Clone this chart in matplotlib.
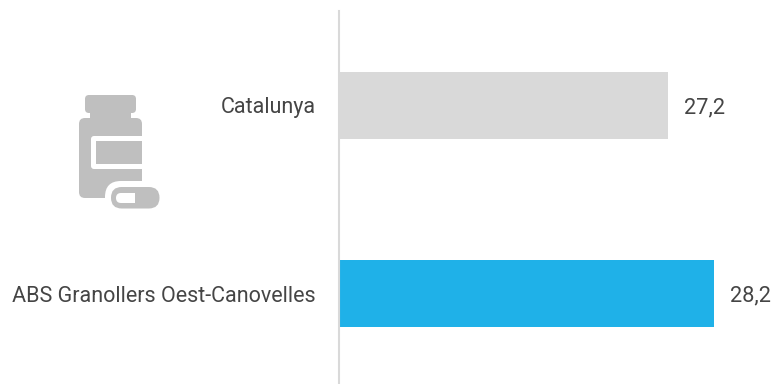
from matplotlib import pyplot as plt
from matplotlib.patches import FancyBboxPatch, Rectangle

categories = ["Catalunya", "ABS Granollers Oest-Canovelles"]
values = [27.2, 28.2]
value_labels = ["27,2", "28,2"]
bar_colors = ["#d9d9d9", "#1fb1e8"]

W, H = 776, 384
ICON = "#bfbfbf"
TEXT = "#454545"

plt.rcParams["font.family"] = "Roboto"

fig = plt.figure(figsize=(W / 100, H / 100), dpi=100, facecolor="white")

# overlay in pixel coordinates for the icon
bg = fig.add_axes([0, 0, 1, 1])
bg.set_xlim(0, W)
bg.set_ylim(H, 0)
bg.axis("off")


def rbox(x0, y0, x1, y1, r, color, z):
    bg.add_patch(FancyBboxPatch((x0 + r, y0 + r), x1 - x0 - 2 * r, y1 - y0 - 2 * r,
                                boxstyle="round,pad=%f,rounding_size=%f" % (r, r),
                                fc=color, ec="none", zorder=z))


rbox(85, 95, 136, 113, 4, ICON, 1)
bg.add_patch(Rectangle((90, 110), 41, 10, fc=ICON, ec="none", zorder=1))
rbox(79, 118, 142, 198, 6, ICON, 1)
rbox(91, 136, 150, 169, 3, "white", 2)
bg.add_patch(Rectangle((96, 141), 46, 23, fc=ICON, ec="none", zorder=3))
bg.add_patch(Rectangle((142, 130), 10, 60, fc="white", ec="none", zorder=3))
rbox(105, 181, 165, 214, 16, "white", 4)
rbox(111, 187, 159.5, 208.5, 10.7, ICON, 5)
rbox(116, 193, 140, 203, 5, "white", 6)
bg.add_patch(Rectangle((135, 192), 6, 12, fc=ICON, ec="none", zorder=7))

# chart axes, value axis starts at 20
left, right, top, bottom = 338.5, 776, 11, 384
ax = fig.add_axes([left / W, 1 - bottom / H, (right - left) / W, (bottom - top) / H])
ax.patch.set_alpha(0)
ax.set_xlim(20, 20 + (right - left) / 45.8)
ax.set_ylim((bottom - 105.5) / 188, (top - 105.5) / 188)
ax.barh(range(len(values)), values, left=0, height=67 / 188, color=bar_colors, zorder=2)
for i, v in enumerate(values):
    ax.annotate(value_labels[i], (v, i), xytext=(16, -2), textcoords="offset pixels",
                va="center", ha="left", fontsize=15.7, color=TEXT, clip_on=False)

for s in ["top", "right", "bottom"]:
    ax.spines[s].set_visible(False)
ax.spines["left"].set_color("#d9d9d9")
ax.spines["left"].set_linewidth(1.5)
ax.spines["left"].set_zorder(3)
ax.set_xticks([])
ax.set_yticks(range(len(categories)))
ax.set_yticklabels(categories, fontsize=15.5, color=TEXT)
ax.tick_params(axis="y", length=0, pad=16.3)

fig.savefig("out.png", dpi=100)
